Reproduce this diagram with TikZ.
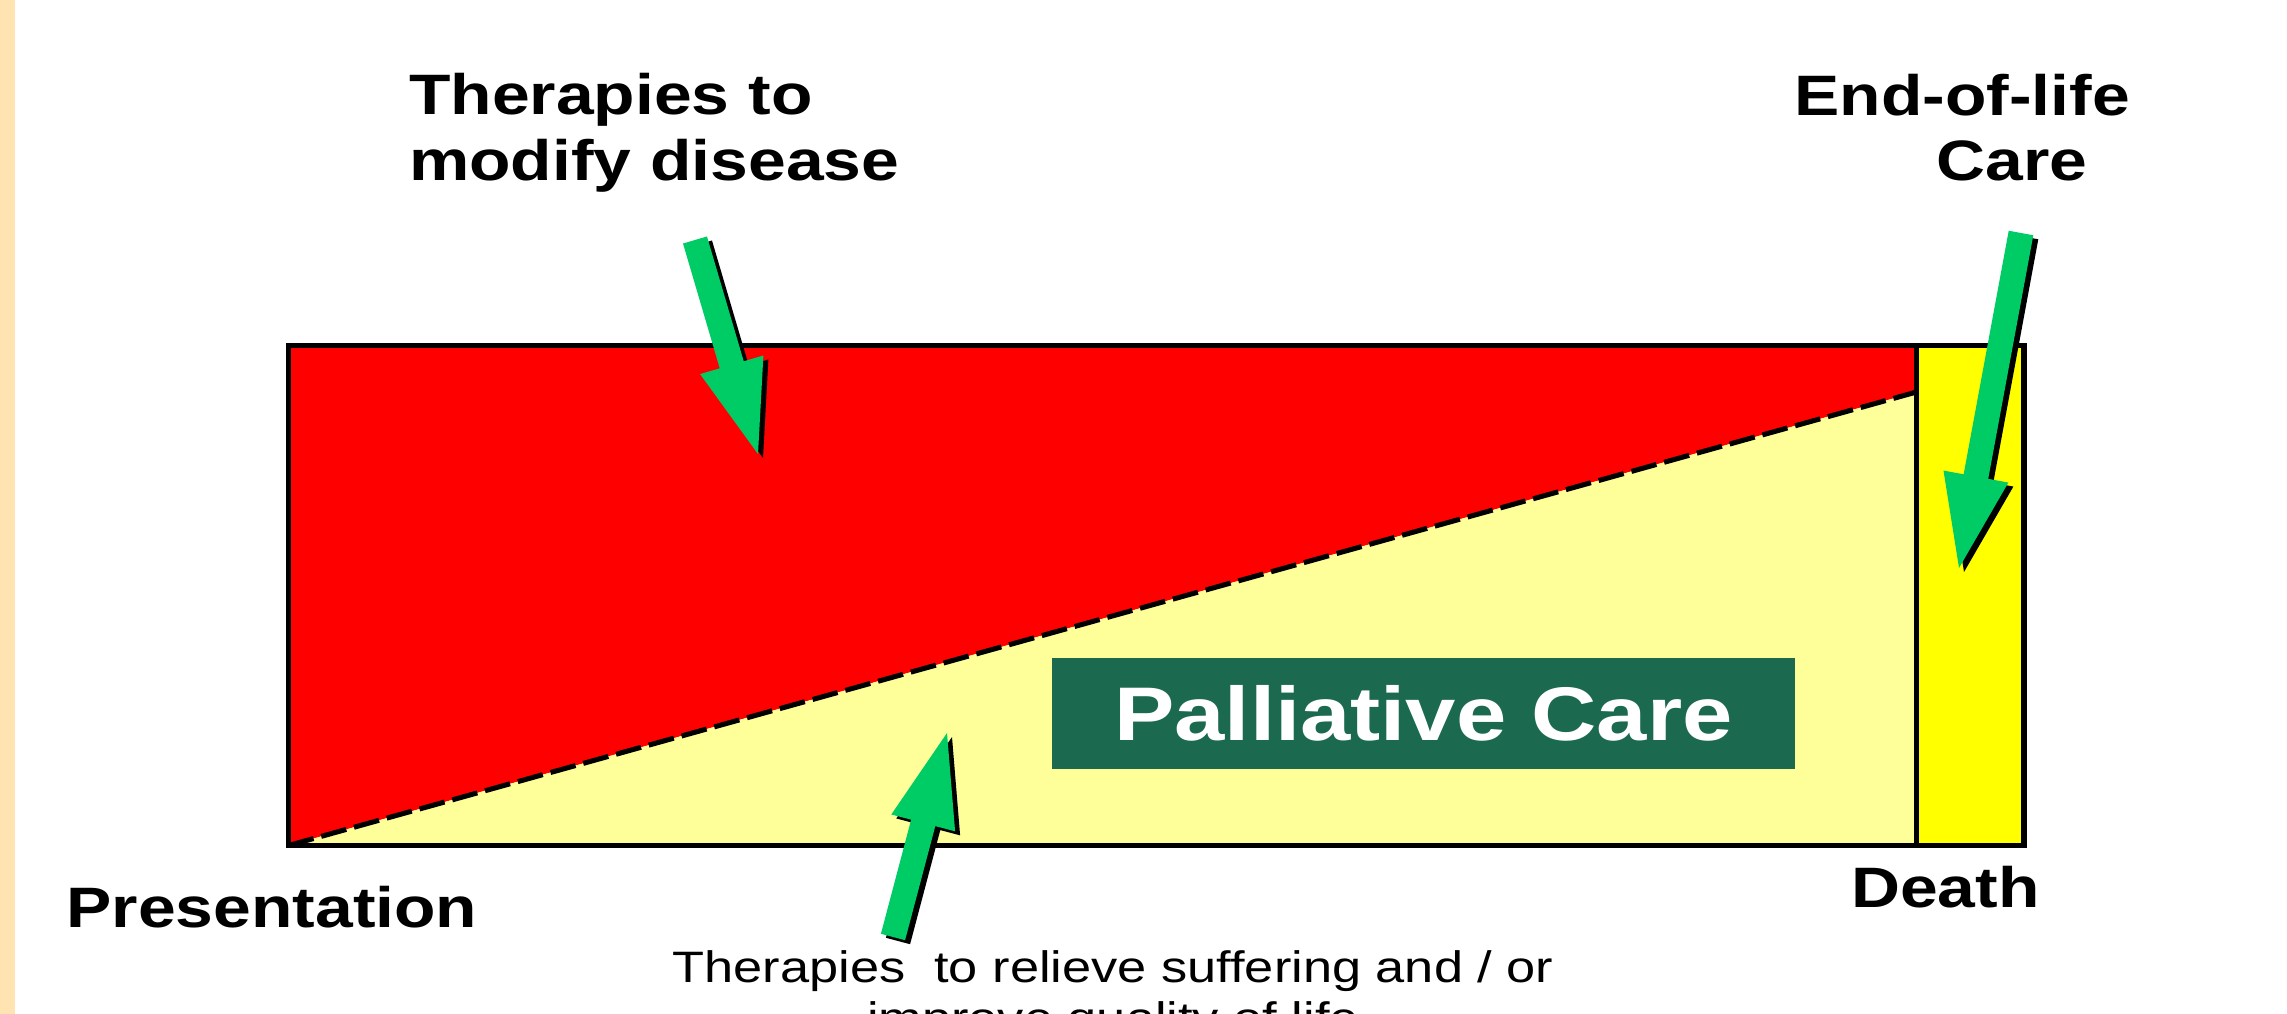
\documentclass[tikz,border=0pt]{standalone}
\usepackage{fontspec}
\setmainfont{Liberation Sans}
\newfontfamily\widefont[FakeStretch=1.19]{Liberation Sans}
\usetikzlibrary{calc}
\definecolor{beige}{HTML}{FFE3B0}
\definecolor{redfill}{HTML}{FF0000}
\definecolor{paleyellow}{HTML}{FFFF99}
\definecolor{strongyellow}{HTML}{FFFF00}
\definecolor{pcgreen}{HTML}{1B6A4F}
\definecolor{arrowgreen}{HTML}{00CC66}
\tikzset{
  bigbold/.style={inner sep=0pt, font=\widefont\bfseries\fontsize{57}{65}\selectfont},
  smalltext/.style={inner sep=0pt, font=\widefont\fontsize{44}{51}\selectfont},
  pcbox/.style={fill=pcgreen, text=white, inner sep=0pt, minimum width=743pt,
    minimum height=111pt, font=\widefont\bfseries\fontsize{76}{90}\selectfont},
  boxframe/.style={draw=black, line width=5.5pt},
  splitline/.style={draw=black, line width=5pt, dash pattern=on 26pt off 8pt},
}
\newcommand\arrowpath[2]{($(#1)!12.5pt!90:(#2)$) -- ($(#1-c)!12.5pt!90:(#2)$) -- ($(#1-c)!33pt!90:(#2)$) -- (#2) -- ($(#1-c)!33pt!-90:(#2)$) -- ($(#1-c)!12.5pt!-90:(#2)$) -- ($(#1)!12.5pt!-90:(#2)$) -- cycle}
\newcommand\greenarrow[2]{%
  \coordinate (#1-c) at ($(#2)!93pt!(#1)$);
  \begin{scope}[transform canvas={shift={(5pt,-4pt)}}]
    \fill[black] \arrowpath{#1}{#2};
  \end{scope}
  \fill[arrowgreen] \arrowpath{#1}{#2};
}
\begin{document}
\begin{tikzpicture}[x=1pt,y=-1pt]
\useasboundingbox (0,0) rectangle (2287,1014);
\clip (0,0) rectangle (2287,1014);
\fill[white] (0,0) rectangle (2287,1014);
\fill[beige] (0,0) rectangle (15,1014);

% chart areas
\coordinate (bl) at (288.5,845.5);
\coordinate (tl) at (288.5,345.5);
\coordinate (dt) at (1916.5,345.5);
\coordinate (dm) at (1916.5,392);
\coordinate (db) at (1916.5,845.5);
\coordinate (rt) at (2024,345.5);
\coordinate (rb) at (2024,845.5);
\fill[redfill] (bl) -- (tl) -- (dt) -- (dm) -- cycle;
\fill[paleyellow] (bl) -- (dm) -- (db) -- cycle;
\fill[strongyellow] (dt) rectangle (rb);
\draw[splitline] (bl) -- (dm);
\draw[boxframe] (tl) rectangle (rb);
\draw[boxframe] (dt) -- (db);

\node[pcbox] (pc) at (1423.5,713.5) {Palliative Care};

% arrows
\coordinate (a1t) at (695,240);
\coordinate (a1h) at (758,454);
\coordinate (a2t) at (2021,233);
\coordinate (a2h) at (1959,568);
\coordinate (a3t) at (893,937);
\coordinate (a3h) at (947,733);
\greenarrow{a1t}{a1h}
\greenarrow{a2t}{a2h}
\greenarrow{a3t}{a3h}

% labels
\node[bigbold, anchor=base west] (mod1) at (409,115) {Therapies to};
\node[bigbold, anchor=base west] (mod2) at (409,180) {modify disease};
\node[bigbold, anchor=base] (eol1) at (1962,116) {End-of-life};
\node[bigbold, anchor=base] (eol2) at (2012,180) {Care};
\node[bigbold, anchor=base] (pres) at (272,927) {Presentation};
\node[bigbold, anchor=base] (death) at (1945.5,907) {Death};
\node[smalltext, anchor=base] (rel1) at (1113,982) {Therapies\ \ to relieve suffering and / or};
\node[smalltext, anchor=base] (rel2) at (1113,1033) {improve quality of life};
\end{tikzpicture}
\end{document}
